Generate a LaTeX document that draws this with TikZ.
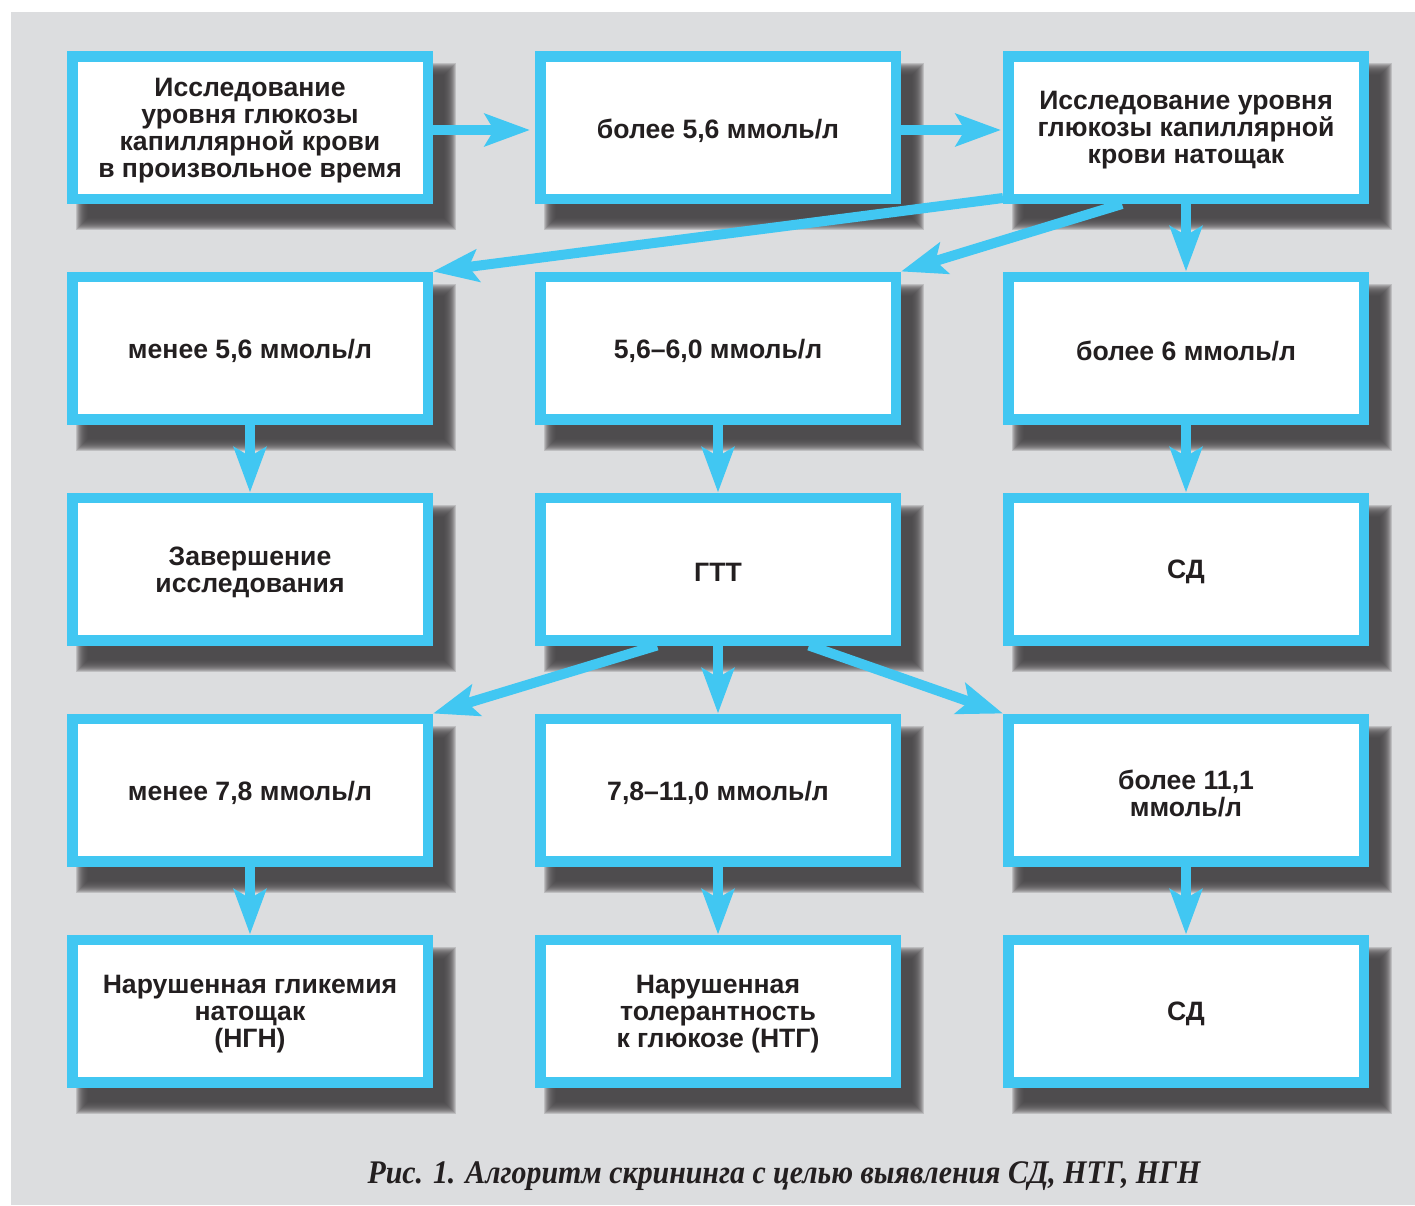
\documentclass[tikz,border=0pt]{standalone}
\usepackage{graphicx}
\usepackage{fontspec}
\setmainfont{Liberation Sans}
\newfontfamily\capfont{Liberation Serif}
\usetikzlibrary{arrows.meta,calc}
\definecolor{cyanb}{HTML}{41C7F2}
\definecolor{bgray}{HTML}{DCDDDF}
\definecolor{shad}{HTML}{474547}
\definecolor{txt}{HTML}{231F20}
\pgfdeclarelayer{bg}
\pgfdeclarelayer{sh}
\pgfsetlayers{bg,sh,main}
\begin{document}
\begin{tikzpicture}[x=1pt,y=-1pt,
  btext/.style={align=center, text=txt, inner sep=0pt, yshift=-3pt,
    font=\fontsize{26.6}{27}\selectfont\bfseries},
  box/.style={draw=cyanb, line width=10.5pt, fill=white, minimum width=355.5pt,
    minimum height=142.5pt, inner sep=0pt, outer sep=5.25pt,
    label={[btext]center:{#1}}},
  arr/.style={draw=cyanb, line width=10pt, -{Stealth[length=45pt,width=32pt,inset=9pt]}}]
\useasboundingbox (0,0) rectangle (1415,1205);
\begin{pgfonlayer}{bg}
  \fill[white] (0,0) rectangle (1415,1205);
  \fill[bgray] (11,12) rectangle (1415,1205);
\end{pgfonlayer}
% row 1
\node[box={Исследование\\уровня глюкозы\\капиллярной крови\\в произвольное время}] (b1) at (250,127.5) {};
\node[box={более 5,6 ммоль/л}] (b2) at (718,127.5) {};
\node[box={Исследование уровня\\глюкозы капиллярной\\крови натощак}] (b3) at (1186,127.5) {};
% row 2
\node[box={менее 5,6 ммоль/л}] (b4) at (250,348) {};
\node[box={5,6–6,0 ммоль/л}] (b5) at (718,348) {};
\node[box={более 6 ммоль/л}] (b6) at (1186,348) {};
% row 3
\node[box={Завершение\\исследования}] (b7) at (250,569) {};
\node[box={ГТТ}] (b8) at (718,569) {};
\node[box={СД}] (b9) at (1186,569) {};
% row 4
\node[box={менее 7,8 ммоль/л}] (b10) at (250,790) {};
\node[box={7,8–11,0 ммоль/л}] (b11) at (718,790) {};
\node[box={более 11,1\\ммоль/л}] (b12) at (1186,790) {};
% row 5
\node[box={Нарушенная гликемия\\натощак\\(НГН)}] (b13) at (250,1011) {};
\node[box={Нарушенная\\толерантность\\к глюкозе (НТГ)}] (b14) at (718,1011) {};
\node[box={СД}] (b15) at (1186,1011) {};
% shadows
\begin{pgfonlayer}{sh}
  \foreach \n in {1,...,15}{
    \foreach \e in {7,6,...,-5}{
      \fill[shad, opacity=0.2] ($(b\n.north west)+({16-\e},{19-\e})$) rectangle ($(b\n.south east)+({16+\e},{19+\e})$);
    }
  }
\end{pgfonlayer}
% arrows
\draw[arr] ([yshift=-2.5pt]b1.east) -- ([xshift=-5pt,yshift=-2.5pt]b2.west);
\draw[arr] ([yshift=-2.5pt]b2.east) -- ([xshift=-2pt,yshift=-2.5pt]b3.west);
\draw[arr] ([yshift=6pt]b3.south west) -- (b4.north east);
\draw[arr] ([xshift=-64pt]b3.south) -- (b5.north east);
\draw[arr] (b3.south) -- (b6.north);
\draw[arr] (b4.south) -- (b7.north);
\draw[arr] (b5.south) -- (b8.north);
\draw[arr] (b6.south) -- (b9.north);
\draw[arr] ([xshift=-61pt]b8.south) -- (b10.north east);
\draw[arr] (b8.south) -- (b11.north);
\draw[arr] ([xshift=91pt]b8.south) -- (b12.north west);
\draw[arr] (b10.south) -- (b13.north);
\draw[arr] (b11.south) -- (b14.north);
\draw[arr] (b12.south) -- (b15.north);
% caption
\node[anchor=base, text=txt, inner sep=0pt] (cap) at (784,1183)
  {\resizebox{833pt}{\height}{\capfont\fontsize{33}{33}\selectfont\bfseries\itshape Рис. 1. Алгоритм скрининга с целью выявления СД, НТГ, НГН}};
\end{tikzpicture}
\end{document}
